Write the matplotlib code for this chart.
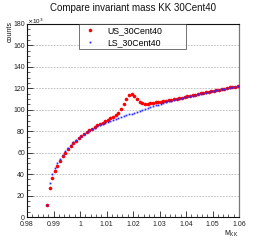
import matplotlib
matplotlib.use("Agg")
import matplotlib.pyplot as plt
from matplotlib.ticker import MultipleLocator
import numpy as np

plt.rcParams['font.family'] = ['Liberation Sans', 'DejaVu Sans']

# bin centres (GeV/c^2)
mass = [0.9875 + 0.001 * i for i in range(73)]

# counts (x10^3)
us_counts = [11, 27.5, 36, 42.5, 48, 52.5, 56.5, 60, 63.3, 66.3,
             69, 71.3, 73.5, 75.5, 77.5, 79.2, 80.9, 82.5, 84, 85.4,
             86.8, 88.1, 89.4, 90.7, 92, 93.4, 95, 97.3, 100.5, 105.5,
             110.3, 113.7, 114.4, 112.5, 109.7, 107.6, 106.3, 105.7, 105.6, 105.9,
             106.4, 106.9, 107.3, 107.6, 107.9, 108.3, 108.7, 109.2, 109.7, 110.2,
             110.8, 111.3, 111.9, 112.4, 113, 113.5, 114.1, 114.6, 115.2, 115.7,
             116.3, 116.8, 117.3, 117.8, 118.3, 118.8, 119.3, 119.8, 120.3, 120.8,
             121.3, 121.7, 122.1]
ls_counts = [11.5, 32, 40.5, 45.5, 50.5, 54.5, 58, 61.5, 64.5, 67,
             69.5, 71.5, 73.5, 75.5, 77.5, 79.2, 80.6, 82, 83.3, 84.5,
             85.6, 86.6, 87.5, 88.4, 89.3, 90.2, 91.1, 92, 92.9, 93.8,
             94.7, 95.6, 96.5, 97.4, 98.3, 99.2, 100.1, 100.9, 101.7, 102.5,
             103.3, 104.1, 104.9, 105.7, 106.4, 107.1, 107.8, 108.5, 109.1, 109.7,
             110.3, 110.9, 111.5, 112.1, 112.7, 113.3, 113.9, 114.5, 115.0, 115.6,
             116.1, 116.6, 117.1, 117.6, 118.1, 118.6, 119.1, 119.6, 120.1, 120.6,
             121.1, 121.6, 122.0]

title = "Compare invariant mass KK 30Cent40"
us_label = "US_30Cent40"
ls_label = "LS_30Cent40"

fig = plt.figure(figsize=(2.66, 2.42), dpi=100)
ax = fig.add_axes([27/266, 1 - 217/242, (239-27)/266, (217-24)/242])

ax.plot(mass, us_counts, 'o', color='#ff0000', ms=2.6, mec='none', label=us_label, zorder=3)
ax.plot(mass, ls_counts, 's', color='#2a2aff', ms=1.3, mec='none', label=ls_label, zorder=4)

ax.set_xlim(0.98, 1.06)
ax.set_ylim(0, 180)
ax.xaxis.set_minor_locator(MultipleLocator(0.002))
ax.yaxis.set_major_locator(MultipleLocator(20))
ax.yaxis.set_minor_locator(MultipleLocator(5))
ax.set_xticks(np.arange(0.98, 1.0601, 0.01))
ax.set_xticklabels(["0.98", "0.99", "1", "1.01", "1.02", "1.03", "1.04", "1.05", "1.06"])

ax.tick_params(axis='both', which='major', direction='in', length=4, width=0.6,
               labelsize=5, colors='#222222')
ax.tick_params(axis='y', which='major', pad=1.5)
ax.tick_params(axis='x', which='major', pad=2.6)
ax.tick_params(axis='both', which='minor', direction='in', length=2, width=0.5, colors='#222222')
ax.tick_params(top=False, right=False, which='both')

ax.yaxis.grid(True, which='major', linestyle=(0, (2, 1.5)), color='#b8b8b8', linewidth=0.6)
ax.set_axisbelow(True)

for s in ['left', 'bottom', 'top']:
    ax.spines[s].set_color('#111111')
    ax.spines[s].set_linewidth(0.8)
ax.spines['right'].set_color('#777777')
ax.spines['right'].set_linewidth(0.9)

fig.text(133/266, 1 - 8/242, title, ha='center', va='center', fontsize=7, color='#111111')
fig.text(10/266, 1 - 32/242, "counts", rotation=90, ha='center', va='center', fontsize=5, color='#111111')
fig.text(27/266, 1 - 21/242, r"$\times$10$^{3}$", ha='left', va='center', fontsize=4.5, color='#111111')
fig.text(238/266, 1 - 229/242, r"M$_{\mathrm{KK}}$", ha='right', va='top', fontsize=5, color='#111111')

leg = ax.legend(loc='upper left', bbox_to_anchor=((79-27)/212, 1.0, (186-79)/212, 0.0),
                mode='expand', fontsize=6.3,
                frameon=True, fancybox=False, edgecolor='#333333', borderpad=0.25,
                handletextpad=1.0, handlelength=2.0, labelspacing=0.3, markerscale=1.0,
                borderaxespad=0)
leg.get_frame().set_linewidth(0.6)

fig.savefig("out.png", dpi=100)
